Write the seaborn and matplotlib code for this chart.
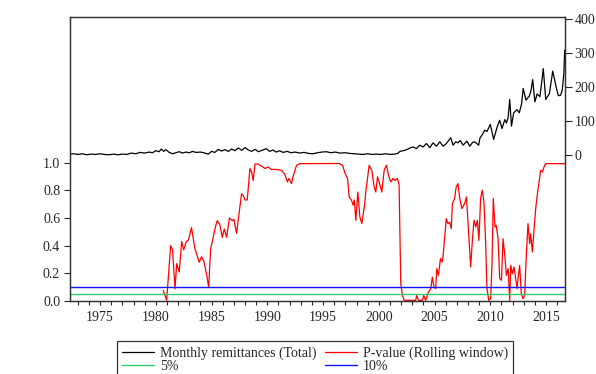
import matplotlib
matplotlib.use("Agg")
import matplotlib.pyplot as plt
import seaborn as sns
import pandas as pd

# ---------------------------------------------------------
# Data
# ---------------------------------------------------------
rem_year = [1972.3, 1972.6, 1973.0, 1973.4, 1973.8, 1974.2, 1974.6, 1975.0, 1975.4, 1975.8,
            1976.2, 1976.6, 1977.0, 1977.4, 1977.8, 1978.2, 1978.6, 1979.0, 1979.4, 1979.7,
            1980.0, 1980.3, 1980.5, 1980.7, 1980.9, 1981.2, 1981.5, 1981.8, 1982.1, 1982.4,
            1982.7, 1983.0, 1983.3, 1983.6, 1984.0, 1984.3, 1984.7, 1985.0, 1985.3, 1985.6,
            1985.9, 1986.2, 1986.5, 1986.8, 1987.1, 1987.4, 1987.7, 1988.0, 1988.3, 1988.6,
            1988.9, 1989.2, 1989.5, 1989.9, 1990.2, 1990.5, 1990.8, 1991.1, 1991.4, 1991.8,
            1992.1, 1992.5, 1992.9, 1993.3, 1993.7, 1994.1, 1994.5, 1994.9, 1995.3, 1995.7,
            1996.1, 1996.5, 1997.0, 1997.4, 1997.8, 1998.2, 1998.6, 1999.0, 1999.4, 1999.8,
            2000.2, 2000.6, 2001.0, 2001.4, 2001.7, 2001.9, 2002.2, 2002.5, 2002.8, 2003.07,
            2003.37, 2003.67, 2003.97, 2004.27, 2004.57, 2004.87, 2005.17, 2005.47, 2005.77, 2006.06,
            2006.45, 2006.66, 2006.9, 2007.1, 2007.3, 2007.56, 2007.9, 2008.16, 2008.4, 2008.6,
            2008.96, 2009.06, 2009.3, 2009.5, 2009.7, 2010.0, 2010.3, 2010.6, 2010.84, 2011.05,
            2011.3, 2011.45, 2011.6, 2011.74, 2011.9, 2012.1, 2012.4, 2012.6, 2012.8, 2012.95,
            2013.2, 2013.5, 2013.65, 2013.8, 2014.0, 2014.2, 2014.45, 2014.75, 2014.97, 2015.3,
            2015.6, 2015.9, 2016.1, 2016.3, 2016.45, 2016.6, 2016.67]
rem_val = [4, 5, 3, 5, 2, 4, 3, 5, 3, 2,
           4, 2, 4, 3, 7, 5, 9, 7, 10, 8,
           14, 11, 19, 12, 17, 9, 5, 8, 11, 7,
           10, 8, 12, 9, 10, 8, 4, 12, 9, 18,
           13, 17, 12, 19, 14, 22, 15, 23, 16, 12,
           18, 11, 15, 20, 12, 16, 10, 14, 9, 12,
           8, 10, 7, 9, 6, 5, 8, 10, 11, 8,
           10, 7, 8, 6, 5, 4, 3, 5, 3, 4,
           3, 5, 3, 4, 6, 12, 14, 17, 22, 25,
           20, 30, 25, 35, 23, 37, 27, 40, 27, 35,
           52, 30, 40, 37, 44, 30, 42, 27, 38, 40,
           30, 50, 62, 74, 70, 91, 47, 82, 103, 79,
           105, 95, 111, 164, 86, 125, 134, 125, 150, 196,
           162, 174, 190, 222, 157, 180, 172, 254, 164, 181,
           247, 201, 175, 176, 191, 240, 308]

pval_year = [1980.67, 1980.97, 1981.33, 1981.5, 1981.72, 1981.87, 1982.1, 1982.32, 1982.5, 1982.74,
             1982.92, 1983.2, 1983.5, 1983.9, 1984.1, 1984.3, 1984.56, 1984.74, 1984.92, 1985.07,
             1985.3, 1985.5, 1985.75, 1985.96, 1986.14, 1986.35, 1986.6, 1986.85, 1987.0, 1987.24,
             1987.48, 1987.69, 1987.85, 1988.0, 1988.2, 1988.44, 1988.6, 1988.73, 1988.9, 1989.2,
             1989.5, 1989.8, 1990.07, 1990.37, 1990.8, 1991.27, 1991.57, 1991.8, 1991.94, 1992.17,
             1992.3, 1992.62, 1992.9, 1996.44, 1996.75, 1996.98, 1997.2, 1997.34, 1997.55, 1997.7,
             1997.8, 1997.94, 1998.12, 1998.3, 1998.48, 1998.7, 1998.83, 1998.95, 1999.13, 1999.37,
             1999.58, 1999.73, 1999.88, 2000.03, 2000.27, 2000.48, 2000.69, 2000.87, 2001.07, 2001.28,
             2001.46, 2001.67, 2001.82, 2001.97, 2002.12, 2002.27, 2003.3, 2003.4, 2003.55, 2003.9,
             2004.03, 2004.2, 2004.45, 2004.66, 2004.8, 2004.95, 2005.1, 2005.2, 2005.35, 2005.53,
             2005.68, 2005.77, 2005.9, 2006.05, 2006.2, 2006.35, 2006.5, 2006.6, 2006.8, 2006.94,
             2007.1, 2007.26, 2007.45, 2007.7, 2007.86, 2008.0, 2008.24, 2008.4, 2008.54, 2008.7,
             2008.84, 2008.98, 2009.13, 2009.28, 2009.43, 2009.58, 2009.7, 2009.86, 2010.03, 2010.15,
             2010.27, 2010.42, 2010.53, 2010.7, 2010.84, 2011.0, 2011.14, 2011.3, 2011.44, 2011.6,
             2011.74, 2011.83, 2011.98, 2012.13, 2012.28, 2012.4, 2012.5, 2012.63, 2012.78, 2012.93,
             2013.08, 2013.23, 2013.38, 2013.53, 2013.62, 2013.77, 2013.92, 2014.07, 2014.19, 2014.37,
             2014.52, 2014.67, 2014.87, 2015.0, 2016.67]
pval_val = [0.077, 0.005, 0.40, 0.37, 0.089, 0.27, 0.21, 0.43, 0.37, 0.43,
            0.44, 0.53, 0.38, 0.28, 0.32, 0.29, 0.19, 0.10, 0.38, 0.43,
            0.52, 0.58, 0.55, 0.46, 0.52, 0.46, 0.60, 0.58, 0.59, 0.49,
            0.64, 0.775, 0.76, 0.73, 0.73, 0.957, 0.93, 0.87, 0.99, 0.988,
            0.973, 0.957, 0.968, 0.95, 0.95, 0.944, 0.915, 0.86, 0.885, 0.848,
            0.896, 0.98, 0.992, 0.993, 0.98, 0.92, 0.885, 0.752, 0.728, 0.692,
            0.73, 0.583, 0.787, 0.607, 0.56, 0.68, 0.787, 0.86, 0.98, 0.944,
            0.824, 0.787, 0.896, 0.86, 0.787, 0.944, 0.98, 0.908, 0.86, 0.885,
            0.87, 0.885, 0.835, 0.126, 0.042, 0.006, 0.005, 0.04, 0.005, 0.005,
            0.04, 0.005, 0.064, 0.088, 0.173, 0.101, 0.09, 0.234, 0.186, 0.306,
            0.282, 0.33, 0.45, 0.595, 0.559, 0.57, 0.523, 0.704, 0.74, 0.824,
            0.848, 0.74, 0.667, 0.704, 0.752, 0.57, 0.246, 0.45, 0.583, 0.535,
            0.583, 0.438, 0.74, 0.80, 0.716, 0.426, 0.09, 0.005, 0.017, 0.258,
            0.74, 0.535, 0.547, 0.45, 0.162, 0.15, 0.45, 0.33, 0.186, 0.234,
            0.005, 0.258, 0.198, 0.246, 0.162, 0.09, 0.174, 0.258, 0.053, 0.017,
            0.04, 0.33, 0.559, 0.414, 0.486, 0.354, 0.511, 0.667, 0.752, 0.86,
            0.944, 0.932, 0.98, 0.992, 0.992]

levels = [0.05, 0.10]
level_labels = ["5%", "10%"]
level_colors = ["#2ecc71", "#1414ff"]

labels = ["Monthly remittances (Total)", "P-value (Rolling window)"]
year_ticks = [1975, 1980, 1985, 1990, 1995, 2000, 2005, 2010, 2015]

rem = pd.DataFrame({"year": rem_year, "value": rem_val})
pval = pd.DataFrame({"year": pval_year, "value": pval_val})

# ---------------------------------------------------------
# Figure
# ---------------------------------------------------------
sns.set_style("ticks")
plt.rcParams["font.family"] = ["Liberation Serif", "DejaVu Serif"]
plt.rcParams["font.size"] = 10

fig = plt.figure(figsize=(5.96, 3.74), dpi=100)
ax = fig.add_axes([0.1174, 0.195, 0.8306, 0.7594])
ax2 = ax.twinx()

# p-value on the left axis, remittances on the right
sns.lineplot(data=pval, x="year", y="value", ax=ax, color="red", lw=0.9,
             estimator=None, label=labels[1], legend=False)
h_lev = []
for lv, lab, col in zip(levels, level_labels, level_colors):
    h_lev.append(ax.axhline(lv, color=col, lw=1.0, label=lab))
sns.lineplot(data=rem, x="year", y="value", ax=ax2, color="black", lw=0.9,
             estimator=None, label=labels[0], legend=False)

ax.set_xlim(1972.3, 2016.7)
ax.set_ylim(0, 2.05)
ax2.set_ylim(-426, 405)

ax.set_xticks(year_ticks)
ax.set_xticks(range(1973, 2017), minor=True)
ax.set_yticks([0.0, 0.2, 0.4, 0.6, 0.8, 1.0])
ax.set_yticklabels(["0.0", "0.2", "0.4", "0.6", "0.8", "1.0"])
ax2.set_yticks([0, 100, 200, 300, 400])
ax.set_xlabel("")
ax.set_ylabel("")
ax2.set_ylabel("")

ax.tick_params(axis="x", which="both", direction="out", length=3, width=0.8, pad=4)
ax.tick_params(axis="y", direction="out", length=4, width=0.8, pad=3)
ax2.tick_params(axis="y", direction="out", length=5, width=0.8, pad=2)

for a in (ax, ax2):
    for s in a.spines.values():
        s.set_visible(True)
        s.set_linewidth(0.9)
        s.set_color("#333333")

# legend below the plot, in a plain box
h_rem = ax2.get_lines()[0]
h_p = ax.get_lines()[0]
handles = [h_rem, h_lev[0], h_p, h_lev[1]]
leg_labels = [labels[0], level_labels[0], labels[1], level_labels[1]]
leg = fig.legend(handles, leg_labels, ncol=2, loc="upper left",
                 bbox_to_anchor=(0.197, 0.0875), frameon=True, fancybox=False,
                 edgecolor="black", fontsize=10, handlelength=2.3,
                 handletextpad=0.4, columnspacing=0.65, labelspacing=0.04,
                 borderpad=0.35, borderaxespad=0)
leg.get_frame().set_linewidth(0.9)

fig.savefig("out.png", dpi=100)
plt.close(fig)
